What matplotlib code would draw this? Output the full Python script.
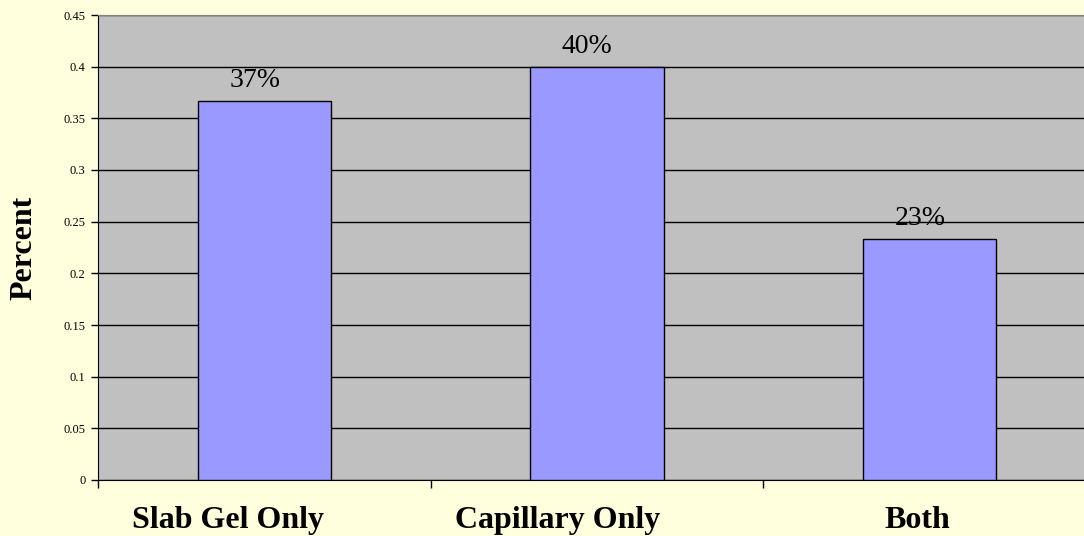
import matplotlib.pyplot as plt
import matplotlib.transforms as mtransforms
import numpy as np

# share of labs by separation method
methods = ['Slab Gel Only', 'Capillary Only', 'Both']
shares = [0.367, 0.400, 0.233]
share_labels = ['37%', '40%', '23%']
y_ticks = [0, 0.05, 0.1, 0.15, 0.2, 0.25, 0.3, 0.35, 0.4, 0.45]
y_tick_labels = ['0', '0.05', '0.1', '0.15', '0.2', '0.25', '0.3', '0.35', '0.4', '0.45']

plt.rcParams['font.family'] = ['Liberation Serif', 'DejaVu Serif']

fig = plt.figure(figsize=(10.84, 5.36), dpi=100, facecolor='#FFFFDD')
# plot area runs a little past the right edge of the figure
ax = fig.add_axes([98 / 1084, 56 / 536, 998 / 1084, 465 / 536])
ax.set_facecolor('#C0C0C0')

x = np.arange(len(methods))
bars = ax.bar(x, shares, width=0.40, color='#9999FF', edgecolor='black', linewidth=1, zorder=3)

texts = []
# percentage labels above each bar (baseline 14px over the bar top)
for b, lab in zip(bars, share_labels):
    t = ax.text(b.get_x() + b.get_width() / 2, b.get_height(), lab,
                ha='center', va='baseline', fontsize=20, zorder=4,
                transform=ax.transData + mtransforms.Affine2D().translate(0, 14))
    texts.append(t)

# category names under the axis
cat_trans = mtransforms.blended_transform_factory(ax.transData, ax.transAxes)
for xi, lab in zip(x, methods):
    t = ax.text(xi, 0, lab, ha='center', va='baseline', fontsize=23, fontweight='bold',
                transform=cat_trans + mtransforms.Affine2D().translate(0, -48))
    texts.append(t)

ax.set_xlim(-0.5, len(methods) - 0.5)
ax.set_ylim(0, 0.45)
ax.set_yticks(y_ticks)
ax.set_yticklabels(y_tick_labels, fontsize=9)
ax.yaxis.grid(True, color='black', linewidth=1, zorder=1)

# tick marks only on the category boundaries
ax.set_xticks(np.arange(-0.5, len(methods)))
ax.set_xticklabels([])
ax.tick_params(axis='x', length=6, width=1, direction='out')
ax.tick_params(axis='y', length=5, width=1, direction='out', pad=4)

ax.set_ylabel('Percent', fontsize=23, fontweight='bold', labelpad=18)

ax.spines['right'].set_visible(False)
ax.spines['top'].set_color('#808080')
ax.spines['left'].set_color('black')
ax.spines['bottom'].set_color('black')

# labels sit a bit left of centre, by about a fifth of their own width
fig.canvas.draw()
renderer = fig.canvas.get_renderer()
for t in texts:
    w = t.get_window_extent(renderer).width
    t.set_transform(t.get_transform() + mtransforms.Affine2D().translate(-0.19 * w, 0))

fig.savefig('out.png', dpi=100, facecolor=fig.get_facecolor())
